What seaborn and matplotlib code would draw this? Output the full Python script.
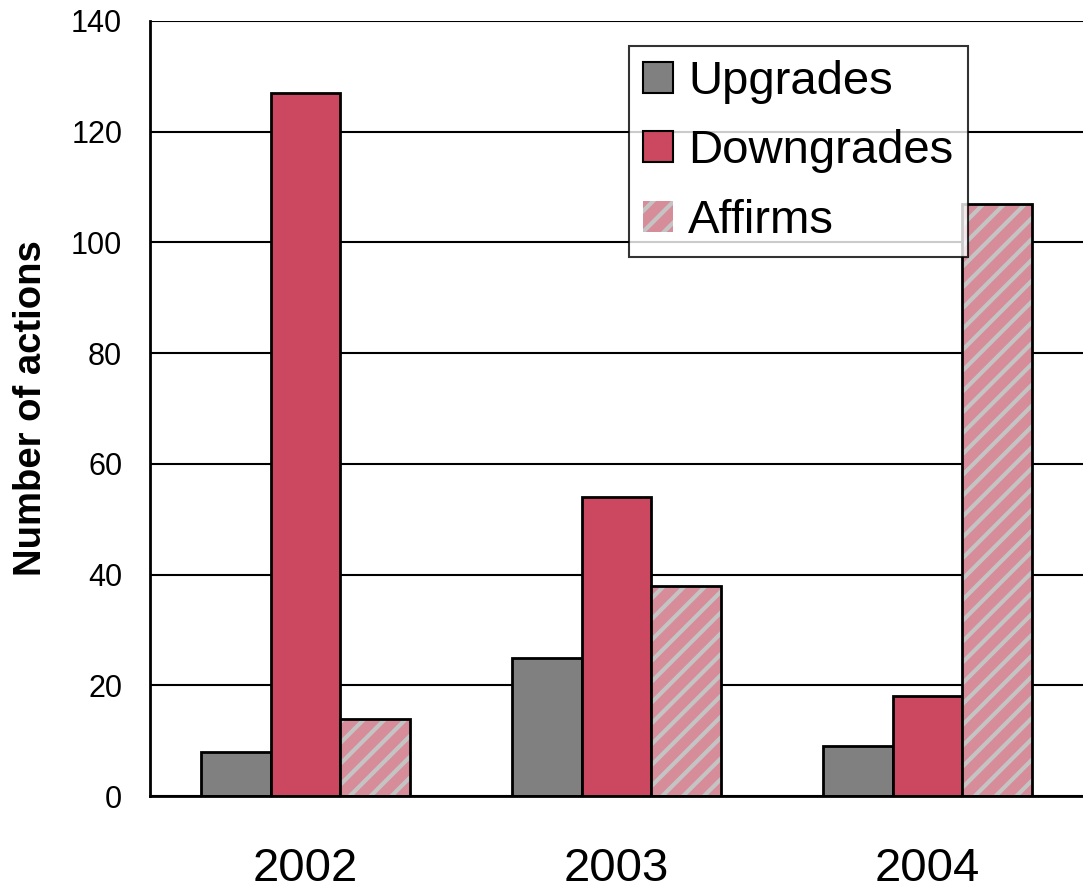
import matplotlib
matplotlib.use("Agg")
import matplotlib.pyplot as plt
import seaborn as sns
import pandas as pd
from matplotlib.patches import Rectangle

years = ["2002", "2003", "2004"]
series = ["Upgrades", "Downgrades", "Affirms"]
upgrades = [8, 25, 9]
downgrades = [127, 54, 18]
affirms = [14, 38, 107]

df = pd.DataFrame({
    "year": years * 3,
    "type": [s for s in series for _ in years],
    "value": upgrades + downgrades + affirms,
})

DPI = 125
S = 100 / DPI  # scale so point sizes give the same pixel sizes as at 100 dpi

sns.set_theme(style="white")
plt.rcParams["font.family"] = ["Liberation Sans", "DejaVu Sans"]
plt.rcParams["hatch.linewidth"] = 3.0 * S
plt.rcParams["text.color"] = "black"
plt.rcParams["axes.labelcolor"] = "black"
plt.rcParams["xtick.color"] = "black"
plt.rcParams["ytick.color"] = "black"

colors = {"Upgrades": "#808080", "Downgrades": "#CC4760", "Affirms": "#D68C99"}

fig = plt.figure(figsize=(1083 / DPI, 896 / DPI), dpi=DPI)
ax = fig.add_axes([150/1083, 100/896, 933/1083, 775/896])

sns.barplot(data=df, x="year", y="value", hue="type", hue_order=series,
            palette=colors, width=0.67, edgecolor="black", linewidth=2 * S,
            saturation=1, ax=ax, legend=False)

hatch_col = "#C4C4C4"
for cont, name in zip(ax.containers, series):
    if name == "Affirms":
        for p in cont.patches:
            p.set_hatch("//")
            p.set_edgecolor(hatch_col)
            p.set_linewidth(0)
            ax.add_patch(Rectangle(p.get_xy(), p.get_width(), p.get_height(),
                                   fill=False, edgecolor="black", lw=2 * S,
                                   zorder=p.get_zorder() + 0.1))

ax.set_xlim(-0.5, 2.5)
ax.set_ylim(0, 140)
ax.set_yticks(range(0, 141, 20))
ax.yaxis.grid(True, color="black", lw=1.5 * S)
ax.set_axisbelow(True)

ax.set_xticks([0.5, 1.5], minor=False)
ax.set_xticklabels([])
ax.set_xticks([0, 1, 2], minor=True)
ax.set_xticklabels(years, minor=True)
ax.tick_params(axis="x", which="major", direction="out", length=12 * S, width=1.5 * S, colors="black")
ax.tick_params(axis="x", which="minor", length=0, pad=37 * S, labelsize=34 * S, labelcolor="black")
ax.tick_params(axis="y", direction="out", length=7 * S, width=1.5 * S, labelsize=22 * S,
               pad=13 * S, labelcolor="black")

ax.set_xlabel("")
ax.set_ylabel("Number of actions", fontsize=27.5 * S, fontweight="bold", color="black")
ax.yaxis.set_label_coords(-0.108, 0.5)

for s in ["top", "right"]:
    ax.spines[s].set_visible(False)
for s in ["left", "bottom"]:
    ax.spines[s].set_color("black")
    ax.spines[s].set_linewidth(2 * S)

handles = [
    Rectangle((0, 0), 1, 1, facecolor=colors["Upgrades"], edgecolor="black", lw=1.5 * S),
    Rectangle((0, 0), 1, 1, facecolor=colors["Downgrades"], edgecolor="black", lw=1.5 * S),
    Rectangle((0, 0), 1, 1, facecolor=colors["Affirms"], edgecolor=hatch_col, hatch="//", lw=0),
]
leg = ax.legend(handles, series, loc="upper left", bbox_to_anchor=(0.513, 0.968),
                borderaxespad=0, fontsize=34 * S, frameon=True, fancybox=False,
                handlelength=0.64, handleheight=0.64, handletextpad=0.32,
                labelspacing=0.54, borderpad=0.3, labelcolor="black")
leg.get_frame().set_edgecolor("black")
leg.get_frame().set_linewidth(1.5 * S)

fig.savefig("out.png", dpi=DPI)
